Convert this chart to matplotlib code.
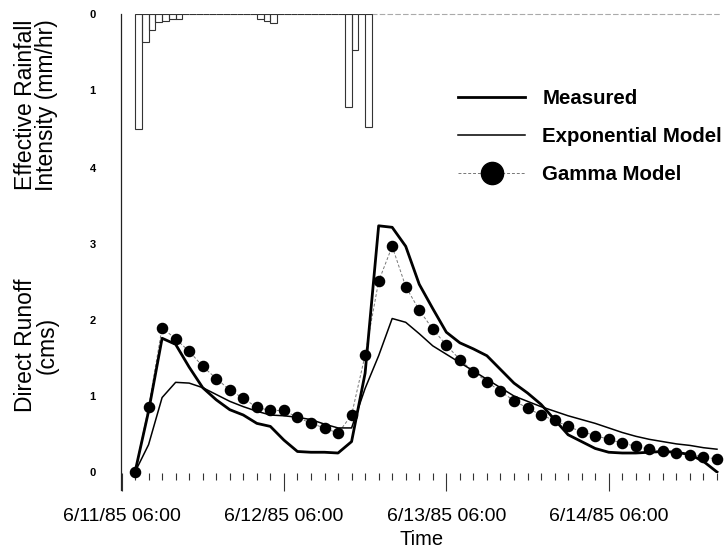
import matplotlib

matplotlib.use("Agg")

import matplotlib.pyplot as plt
import matplotlib.dates as mdates
import pandas as pd
from matplotlib.lines import Line2D
from matplotlib.ticker import FuncFormatter

plt.rcParams["font.family"] = "Liberation Sans"

# direct runoff (cms), one value every 2 hours from 6/11/85 08:00
runoff_start = "1985-06-11 08:00"
measured = [0.00, 0.80, 1.76, 1.68, 1.38, 1.11, 0.95, 0.82, 0.75, 0.64, 0.60,
            0.42, 0.27, 0.26, 0.26, 0.25, 0.40, 1.30, 3.24, 3.22, 2.97, 2.47,
            2.15, 1.84, 1.70, 1.62, 1.53, 1.35, 1.17, 1.04, 0.89, 0.69, 0.49,
            0.40, 0.31, 0.26, 0.25, 0.25, 0.26, 0.27, 0.26, 0.23, 0.14, 0.00]
exponential = [0.00, 0.36, 0.98, 1.18, 1.17, 1.11, 1.02, 0.93, 0.86, 0.80, 0.75,
               0.74, 0.72, 0.69, 0.63, 0.58, 0.58, 1.10, 1.53, 2.02, 1.97, 1.82,
               1.66, 1.55, 1.44, 1.33, 1.22, 1.11, 1.00, 0.93, 0.86, 0.80, 0.74,
               0.69, 0.64, 0.58, 0.52, 0.47, 0.43, 0.40, 0.37, 0.35, 0.32, 0.30]
gamma = [0.00, 0.85, 1.90, 1.75, 1.59, 1.39, 1.23, 1.08, 0.97, 0.85, 0.81,
         0.81, 0.72, 0.64, 0.58, 0.51, 0.75, 1.54, 2.51, 2.97, 2.44, 2.13,
         1.88, 1.67, 1.48, 1.32, 1.19, 1.06, 0.94, 0.84, 0.75, 0.68, 0.60,
         0.53, 0.48, 0.43, 0.38, 0.34, 0.30, 0.28, 0.25, 0.23, 0.20, 0.17]

# effective rainfall intensity (mm/hr), hourly from 6/11/85 08:00
rain_start = "1985-06-11 08:00"
rain = [1.51, 0.37, 0.21, 0.10, 0.09, 0.06, 0.06,
        0, 0, 0, 0, 0, 0, 0, 0, 0, 0, 0,
        0.06, 0.09, 0.12,
        0, 0, 0, 0, 0, 0, 0, 0, 0, 0,
        1.23, 0.48, 0.00, 1.49]

runoff_ticks = [0, 1, 2, 3, 4]
rain_ticks = [0, 1]
x_start = "1985-06-11 06:00"
x_end = "1985-06-14 22:40"

times = pd.date_range(runoff_start, periods=len(measured), freq="2h")
rain_times = pd.date_range(rain_start, periods=len(rain), freq="1h")

fig = plt.figure(figsize=(7.28, 5.53), dpi=100)
ax = fig.add_axes([121.5 / 728, 1 - 473 / 553, 600 / 728, 459 / 553])

ax.plot(times, gamma, color="#777777", lw=0.7, ls=(0, (3, 2)),
        marker="o", ms=7.3, mfc="black", mec="black", clip_on=False,
        label="Gamma Model", zorder=3)
ax.plot(times, exponential, color="black", lw=1.1, label="Exponential Model",
        zorder=4)
ax.plot(times, measured, color="black", lw=2.0, label="Measured", zorder=5)

ax.set_xlim(pd.Timestamp(x_start), pd.Timestamp(x_end))
ax.set_ylim(-0.013, 6.027)

# rainfall hangs from the top, on its own inverted scale
ax2 = ax.twinx()
ax2.bar(mdates.date2num(rain_times), rain, width=1 / 24, align="edge",
        fill=False, edgecolor="#333333", linewidth=0.8)
ax2.set_ylim(6.04, 0)
ax2.yaxis.set_ticks_position("left")
ax2.set_yticks(rain_ticks)
ax2.tick_params(axis="y", length=0, pad=18.5, labelsize=8)
for lab in ax2.get_yticklabels():
    lab.set_fontweight("bold")
for s in ax2.spines.values():
    s.set_visible(False)

ax.set_yticks(runoff_ticks)
ax.tick_params(axis="y", length=0, pad=18.5, labelsize=8)
for lab in ax.get_yticklabels():
    lab.set_fontweight("bold")

ax.xaxis.set_major_locator(mdates.HourLocator(byhour=[6]))
ax.xaxis.set_minor_locator(mdates.HourLocator(byhour=range(0, 24, 2)))


def fmt_date(x, pos):
    d = mdates.num2date(x)
    return f"{d.month}/{d.day}/{d:%y %H:%M}"


ax.xaxis.set_major_formatter(FuncFormatter(fmt_date))
ax.tick_params(axis="x", which="major", length=13, width=0.8, color="#333333",
               pad=12, labelsize=14)
ax.tick_params(axis="x", which="minor", length=5, width=0.8, color="#333333")

ax.spines["right"].set_visible(False)
ax.spines["bottom"].set_visible(False)
ax.spines["left"].set_color("#222222")
ax.spines["left"].set_linewidth(0.9)
ax.spines["left"].set_bounds(-0.24, 6.027)
ax.spines["top"].set_color("#aaaaaa")
ax.spines["top"].set_linewidth(0.8)
ax.spines["top"].set_linestyle((0, (4, 3)))
ax.spines["top"].set_bounds(mdates.date2num(rain_times[-1]) + 1 / 24,
                            mdates.date2num(pd.Timestamp(x_end)))

ax.set_xlabel("Time", fontsize=14.5, labelpad=4)

fig.text(36 / 728, 1 - 105 / 553, "Effective Rainfall\nIntensity (mm/hr)",
         rotation=90, ha="center", va="center", fontsize=16.5, linespacing=0.92)
fig.text(36 / 728, 1 - 345 / 553, "Direct Runoff\n(cms)",
         rotation=90, ha="center", va="center", fontsize=16.5, linespacing=0.92)

handles = [
    Line2D([], [], color="black", lw=2.0),
    Line2D([], [], color="black", lw=1.1),
    Line2D([], [], color="#777777", lw=0.7, ls=(0, (3, 2)), marker="o",
           ms=16, mfc="black", mec="black"),
]
labels = ["Measured", "Exponential Model", "Gamma Model"]
ax.legend(handles, labels, loc="upper left", frameon=False,
          bbox_to_anchor=(458 / 728, 1 - 89 / 553),
          bbox_transform=fig.transFigure, borderpad=0, borderaxespad=0,
          handlelength=3.3, handletextpad=0.83, labelspacing=0.94,
          prop={"weight": "bold", "size": 14.7})

fig.savefig("out.png", dpi=100)
